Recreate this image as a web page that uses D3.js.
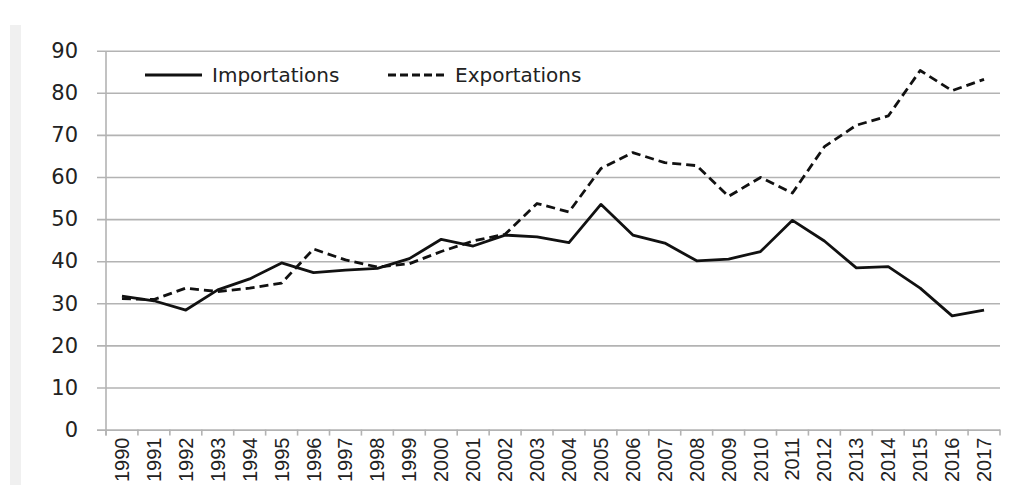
<!DOCTYPE html>
<html>
<head>
<meta charset="utf-8">
<script src="https://cdn.jsdelivr.net/npm/d3@7"></script>
<style>
    body { margin: 0; background: #fff; }
    svg { display: block; }
    .ylab { font-family: "DejaVu Sans", sans-serif; font-size: 21px; fill: #222; }
    .xlab { font-family: "Liberation Sans", Arial, sans-serif; font-size: 20px; fill: #222; }
    .legend-text { font-family: "DejaVu Sans", sans-serif; font-size: 20px; fill: #222; }
</style>
</head>
<body>
<div id="chart"></div>
<script>
// years on the x axis
var years = [1990, 1991, 1992, 1993, 1994, 1995, 1996, 1997, 1998, 1999,
    2000, 2001, 2002, 2003, 2004, 2005, 2006, 2007, 2008, 2009,
    2010, 2011, 2012, 2013, 2014, 2015, 2016, 2017];

// values
var importations = [31.7, 30.6, 28.4, 33.2, 35.8, 39.6, 37.3, 37.9, 38.3, 40.6,
    45.2, 43.6, 46.2, 45.8, 44.4, 53.5, 46.2, 44.3, 40.1, 40.5,
    42.3, 49.7, 44.8, 38.4, 38.7, 33.6, 27.0, 28.4];

var exportations = [31.1, 30.9, 33.6, 32.8, 33.6, 34.8, 42.9, 40.3, 38.6, 39.4,
    42.3, 44.8, 46.4, 53.7, 51.7, 62.0, 65.8, 63.4, 62.7, 55.4,
    59.9, 56.2, 67.2, 72.3, 74.5, 85.3, 80.5, 83.2];

var yTicks = [0, 10, 20, 30, 40, 50, 60, 70, 80, 90];

var seriesNames = ["Importations", "Exportations"];

var width = 1010, height = 487;
var margin = { top: 50.7, right: 10, bottom: 57.4, left: 106 };

var svg = d3.select("#chart").append("svg")
    .attr("width", width)
    .attr("height", height);

// light gray band on the left side
svg.append("rect")
    .attr("x", 10).attr("y", 25)
    .attr("width", 11).attr("height", 460)
    .attr("fill", "#f0f0f0");

var xScale = d3.scaleBand()
    .domain(years)
    .range([margin.left, width - margin.right])
    .padding(0);

var yScale = d3.scaleLinear()
    .domain([0, 90])
    .range([height - margin.bottom, margin.top]);

var gridColor = "#b3b3b3";

// horizontal gridlines + y labels
var yAxis = svg.append("g")
    .attr("transform", "translate(" + margin.left + ",0)")
    .call(d3.axisLeft(yScale)
        .tickValues(yTicks)
        .tickSize(-(width - margin.right - margin.left))
        .tickPadding(28));

yAxis.select(".domain").remove();
yAxis.attr("font-family", null).attr("font-size", null);
yAxis.selectAll(".tick line")
    .attr("x1", -9)
    .attr("stroke", gridColor)
    .attr("stroke-width", 1.6);
yAxis.selectAll(".tick text")
    .attr("class", "ylab")
    .attr("fill", null);

// vertical axis line
svg.append("line")
    .attr("x1", margin.left).attr("x2", margin.left)
    .attr("y1", yScale(90) + 1).attr("y2", yScale(0) + 6)
    .attr("stroke", gridColor)
    .attr("stroke-width", 1.6);

// x tick marks at category boundaries
var boundaries = years.map(function(d) { return xScale(d); });
boundaries.push(xScale.range()[1]);
svg.append("g").selectAll("line")
    .data(boundaries)
    .enter()
    .append("line")
    .attr("x1", function(d) { return d; })
    .attr("x2", function(d) { return d; })
    .attr("y1", yScale(0))
    .attr("y2", yScale(0) + 6)
    .attr("stroke", gridColor)
    .attr("stroke-width", 1.6);

// x labels
var xAxis = svg.append("g")
    .attr("transform", "translate(0," + yScale(0) + ")")
    .call(d3.axisBottom(xScale).tickSize(0).tickPadding(0));
xAxis.select(".domain").remove();
xAxis.attr("font-family", null).attr("font-size", null);
xAxis.selectAll(".tick text")
    .attr("class", "xlab")
    .attr("fill", null)
    .attr("transform", "rotate(-90)")
    .attr("x", -8)
    .attr("y", 0)
    .attr("dy", "0.35em")
    .style("text-anchor", "end");

// lines
var line = d3.line()
    .x(function(d, i) { return xScale(years[i]) + xScale.bandwidth() / 2; })
    .y(function(d) { return yScale(d); });

svg.append("path")
    .datum(importations)
    .attr("d", line)
    .attr("fill", "none")
    .attr("stroke", "#111")
    .attr("stroke-width", 2.8)
    .attr("stroke-linejoin", "round");

svg.append("path")
    .datum(exportations)
    .attr("d", line)
    .attr("fill", "none")
    .attr("stroke", "#111")
    .attr("stroke-width", 2.8)
    .attr("stroke-dasharray", "9,5")
    .attr("stroke-linejoin", "round");

// legend
function setUpLegend() {
    var legendY = 75;
    var items = [
        { name: seriesNames[0], x: 145, dash: null },
        { name: seriesNames[1], x: 388, dash: "8,4" }
    ];
    items.forEach(function(item) {
        svg.append("line")
            .attr("x1", item.x).attr("x2", item.x + 57)
            .attr("y1", legendY).attr("y2", legendY)
            .attr("stroke", "#111")
            .attr("stroke-width", 2.8)
            .attr("stroke-dasharray", item.dash);
        svg.append("text")
            .attr("class", "legend-text")
            .attr("x", item.x + 67)
            .attr("y", legendY)
            .attr("dy", "0.36em")
            .text(item.name);
    });
}
setUpLegend();
</script>
</body>
</html>
